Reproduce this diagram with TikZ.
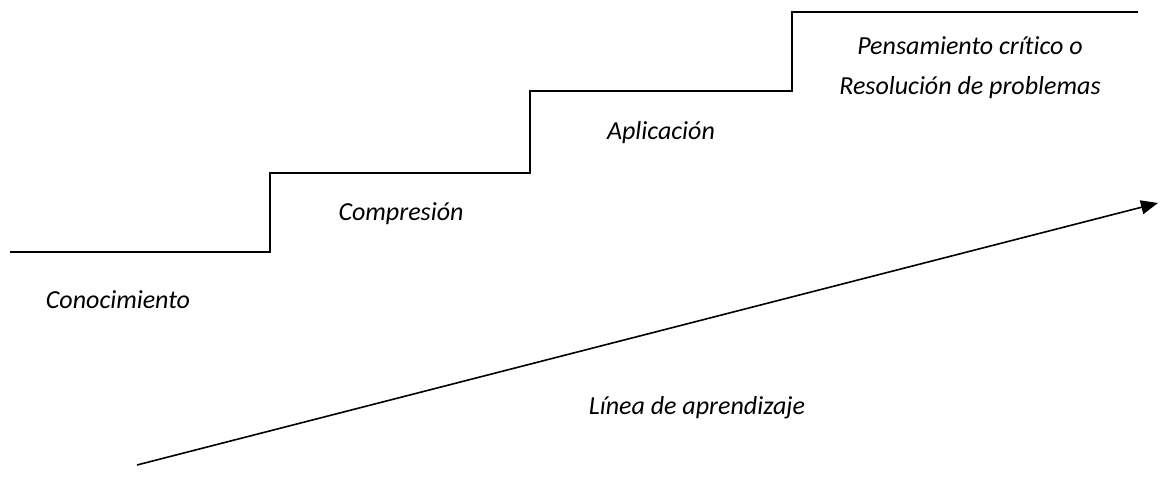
\documentclass[tikz,border=0pt]{standalone}
\usepackage{fontspec}
\setmainfont[Ligatures=NoCommon]{Carlito}
\usetikzlibrary{arrows.meta}
\begin{document}
\begin{tikzpicture}[x=1pt,y=-1pt,
  lbl/.style={font=\fontsize{26}{40}\selectfont\itshape, inner sep=0pt, align=center},
  stair/.style={line width=1.8pt},
  arr/.style={line width=1.6pt,-{Triangle[length=17pt,width=14pt]}}]
\useasboundingbox (0,0) rectangle (1160,500);
\coordinate (s0) at (10,252);
\coordinate (s1) at (270,252);
\coordinate (s2) at (270,173);
\coordinate (s3) at (530,173);
\coordinate (s4) at (530,91);
\coordinate (s5) at (792,91);
\coordinate (s6) at (792,12);
\coordinate (s7) at (1138,12);
\draw[stair] (s0) -- (s1) -- (s2) -- (s3) -- (s4) -- (s5) -- (s6) -- (s7);
\coordinate (a0) at (137,465);
\coordinate (a1) at (1158,203);
\draw[arr] (a0) -- (a1);
\node[lbl] (con) at (118,300) {Conocimiento};
\node[lbl] (com) at (401,214) {Compresión};
\node[lbl] (apl) at (661,133) {Aplicación};
\node[lbl] (pen) at (970,68) {Pensamiento crítico o\\Resolución de problemas};
\node[lbl] (lin) at (697,408) {Línea de aprendizaje};
\end{tikzpicture}
\end{document}
